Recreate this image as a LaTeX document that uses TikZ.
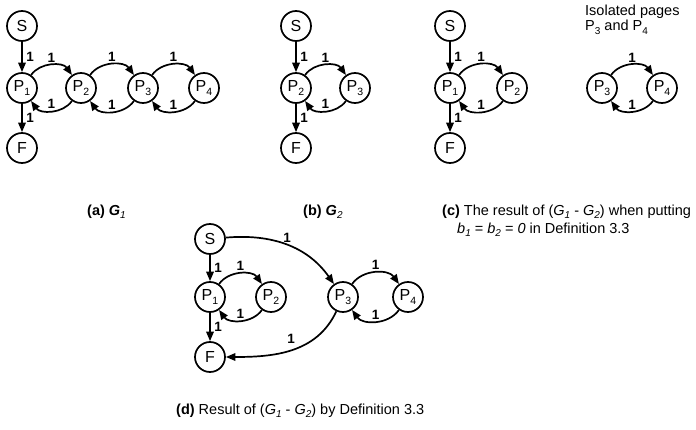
\documentclass[tikz,border=0pt]{standalone}
\usepackage{fontspec}
\setmainfont{Liberation Sans}
\usetikzlibrary{arrows.meta}
\newcommand{\ms}[1]{\raisebox{-3.5pt}{\fontsize{10.5}{10.5}\selectfont #1}}
\newcommand{\cs}[1]{\raisebox{-3.5pt}{\fontsize{10}{10}\selectfont #1}}
\begin{document}
\begin{tikzpicture}[x=1pt,y=1pt,
  st/.style={circle,draw,line width=1.7pt,minimum size=30pt,inner sep=0pt,font=\fontsize{16}{16}\selectfont},
  ed/.style={line width=1.7pt,-{Triangle[length=9.5pt,width=7.5pt]}},
  lb/.style={font=\bfseries\fontsize{13.5}{13.5}\selectfont,inner sep=1pt},
  captxt/.style={font=\fontsize{14.5}{17}\selectfont,anchor=base west,inner sep=0pt}]
\useasboundingbox (0,0) rectangle (696,429);
% (a)
\node[st] (aS) at (22,403) {S};
\node[st] (aP1) at (22,341) {P\ms{1}};
\node[st] (aF) at (22,281) {F};
\node[st] (aP2) at (81,341) {P\ms{2}};
\node[st] (aP3) at (143,341) {P\ms{3}};
\node[st] (aP4) at (204,341) {P\ms{4}};
\draw[ed] (aS) -- node[lb,right=2.5pt]{1} (aP1);
\draw[ed] (aP1) -- node[lb,right=2.5pt]{1} (aF);
\draw[ed] (aP1) to[out=55,in=125] node[lb,above=1pt]{1} (aP2);
\draw[ed] (aP2) to[out=-125,in=-55] node[lb,above=0pt]{1} (aP1);
\draw[ed] (aP2) to[out=55,in=125] node[lb,above=1pt]{1} (aP3);
\draw[ed] (aP3) to[out=-125,in=-55] node[lb,above=0pt]{1} (aP2);
\draw[ed] (aP3) to[out=55,in=125] node[lb,above=1pt]{1} (aP4);
\draw[ed] (aP4) to[out=-125,in=-55] node[lb,above=0pt]{1} (aP3);
% (b)
\node[st] (bS) at (296,403) {S};
\node[st] (bP2) at (296,341) {P\ms{2}};
\node[st] (bF) at (296,281) {F};
\node[st] (bP3) at (355,341) {P\ms{3}};
\draw[ed] (bS) -- node[lb,right=2.5pt]{1} (bP2);
\draw[ed] (bP2) -- node[lb,right=2.5pt]{1} (bF);
\draw[ed] (bP2) to[out=55,in=125] node[lb,above=1pt]{1} (bP3);
\draw[ed] (bP3) to[out=-125,in=-55] node[lb,above=0pt]{1} (bP2);
% (c)
\node[st] (cS) at (450,403) {S};
\node[st] (cP1) at (450,341) {P\ms{1}};
\node[st] (cF) at (450,281) {F};
\node[st] (cP2) at (512,341) {P\ms{2}};
\node[st] (cP3) at (602,341) {P\ms{3}};
\node[st] (cP4) at (662,341) {P\ms{4}};
\draw[ed] (cS) -- node[lb,right=2.5pt]{1} (cP1);
\draw[ed] (cP1) -- node[lb,right=2.5pt]{1} (cF);
\draw[ed] (cP1) to[out=55,in=125] node[lb,above=1pt]{1} (cP2);
\draw[ed] (cP2) to[out=-125,in=-55] node[lb,above=0pt]{1} (cP1);
\draw[ed] (cP3) to[out=55,in=125] node[lb,above=1pt]{1} (cP4);
\draw[ed] (cP4) to[out=-125,in=-55] node[lb,above=0pt]{1} (cP3);
\node[captxt] (iso1) at (585,413) {Isolated pages};
\node[captxt] (iso2) at (585,398) {P\cs{3} and P\cs{4}};
% (d)
\node[st] (dS) at (210,190) {S};
\node[st] (dP1) at (210,132) {P\ms{1}};
\node[st] (dF) at (210,72) {F};
\node[st] (dP2) at (271,132) {P\ms{2}};
\node[st] (dP3) at (343,132) {P\ms{3}};
\node[st] (dP4) at (408,132) {P\ms{4}};
\draw[ed] (dS) -- node[lb,right=2.5pt]{1} (dP1);
\draw[ed] (dP1) -- node[lb,right=2.5pt]{1} (dF);
\draw[ed] (dP1) to[out=55,in=125] node[lb,above=1pt]{1} (dP2);
\draw[ed] (dP2) to[out=-125,in=-55] node[lb,above=0pt]{1} (dP1);
\draw[ed] (dP3) to[out=55,in=125] node[lb,above=1pt]{1} (dP4);
\draw[ed] (dP4) to[out=-125,in=-55] node[lb,above=0pt]{1} (dP3);
\draw[ed] (dS) to[out=5,in=125] node[lb,above=0.5pt]{1} (dP3);
\draw[ed] (dP3) to[out=245,in=0] node[lb,above=5pt]{1} (dF);
% captions
\node[captxt] (capa) at (87,214) {\textbf{(a)} \textbf{\textit{G}}\cs{\textit{1}}};
\node[captxt] (capb) at (303,214) {\textbf{(b)} \textbf{\textit{G}}\cs{\textit{2}}};
\node[captxt] (capc1) at (442,214) {\textbf{(c)} The result of (\textit{G}\cs{\textit{1}} - \textit{G}\cs{\textit{2}}) when putting};
\node[captxt] (capc2) at (457,196) {\textit{b}\cs{\textit{1}} = \textit{b}\cs{\textit{2}} = \textit{0} in Definition 3.3};
\node[captxt] (capd) at (176,15) {\textbf{(d)} Result of (\textit{G}\cs{\textit{1}} - \textit{G}\cs{\textit{2}}) by Definition 3.3};
\end{tikzpicture}
\end{document}
